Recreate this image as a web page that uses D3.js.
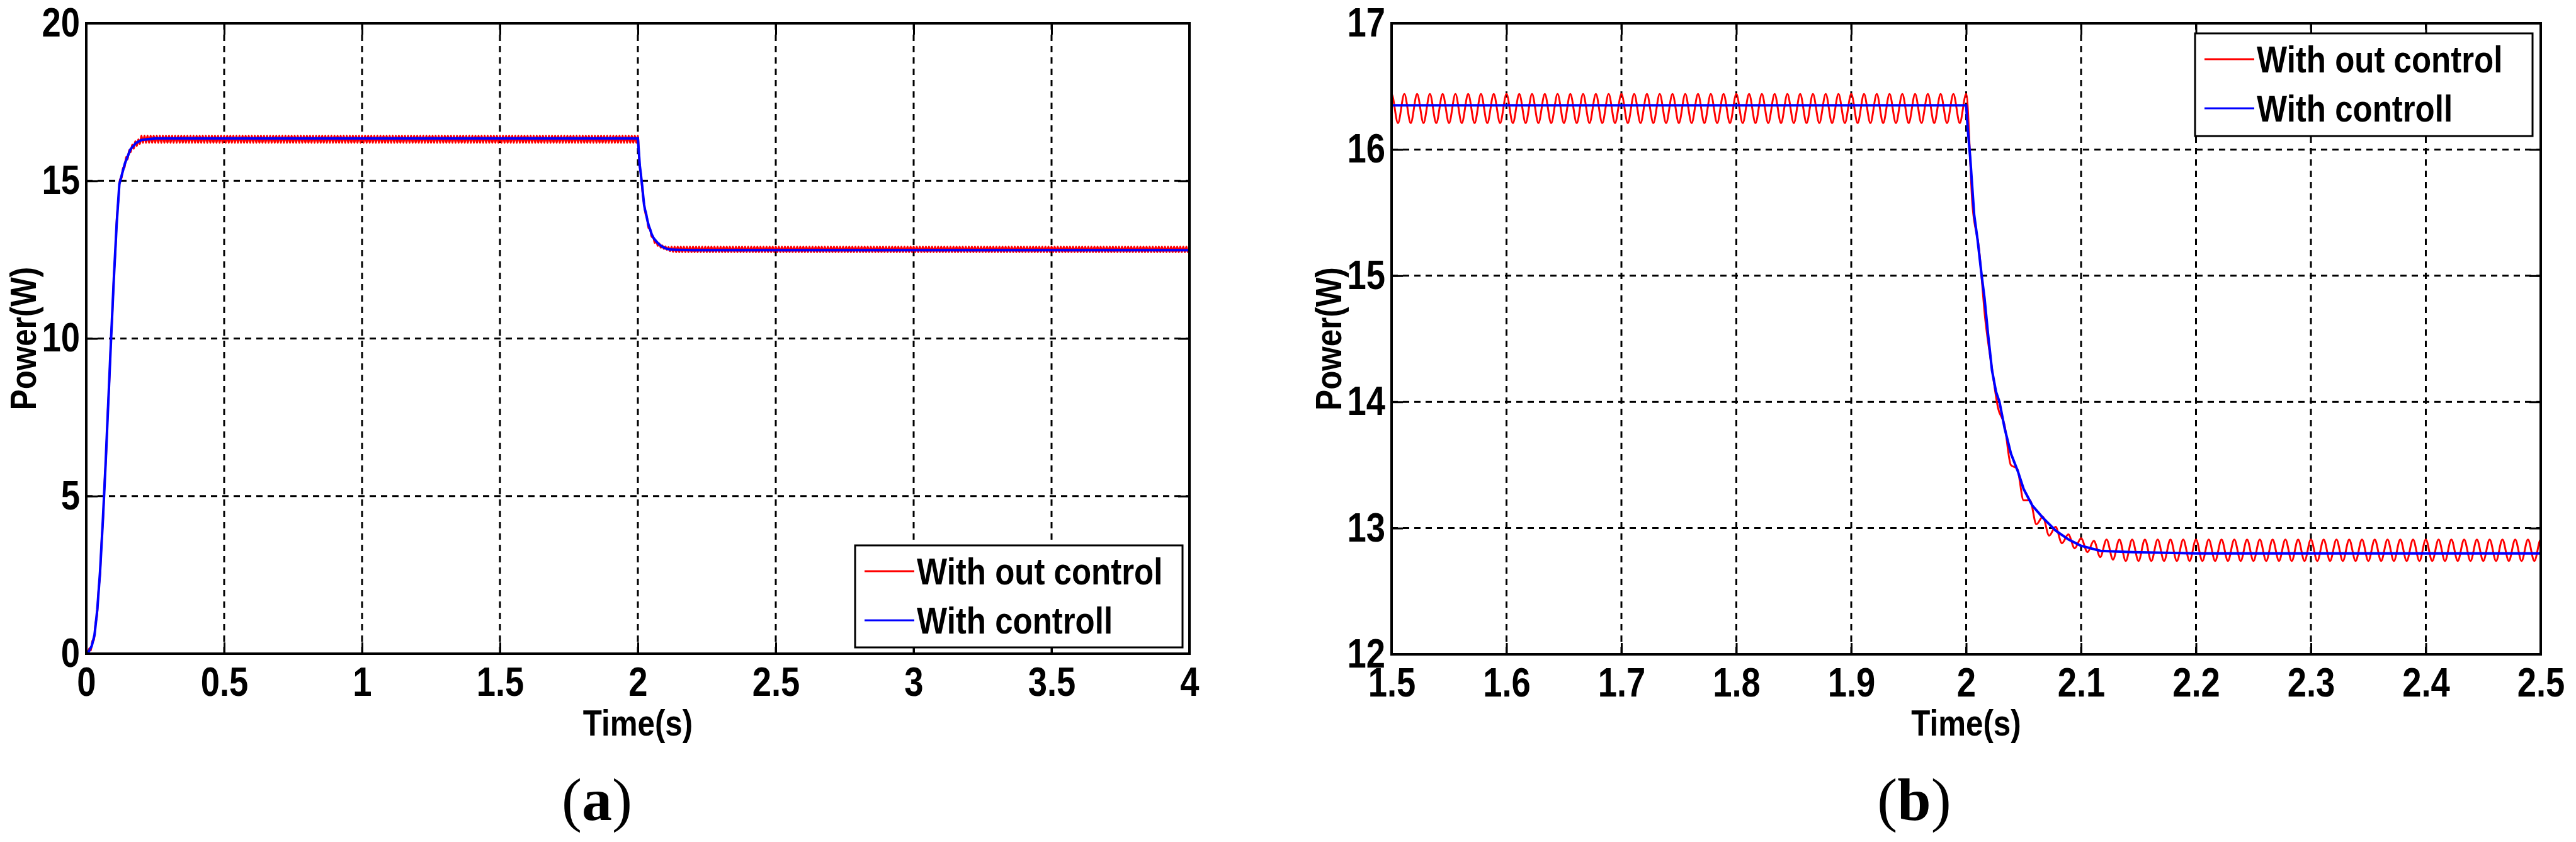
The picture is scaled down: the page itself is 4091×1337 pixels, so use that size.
<!DOCTYPE html>
<html><head><meta charset="utf-8">
<script src="https://cdn.jsdelivr.net/npm/d3@7"></script>
<style>html,body{margin:0;padding:0;background:#fff;}svg{display:block;}</style>
</head><body>
<svg id="chart" width="4091" height="1337"></svg>
<script>
// ---------------- DATA ----------------
const seriesNames = ["With out control", "With controll"];
const panelLabels = ["a", "b"];
const xAxisTitle = "Time(s)";
const yAxisTitle = "Power(W)";

// tick labels
const leftXTicks  = [0, 0.5, 1, 1.5, 2, 2.5, 3, 3.5, 4];
const leftYTicks  = [0, 5, 10, 15, 20];
const rightXTicks = [1.5, 1.6, 1.7, 1.8, 1.9, 2, 2.1, 2.2, 2.3, 2.4, 2.5];
const rightYTicks = [12, 13, 14, 15, 16, 17];

// "With controll" (blue) curve: time (s) and power (W)
const blueTime = [0, 0.01, 0.02, 0.03, 0.04, 0.05, 0.06, 0.07, 0.08, 0.09, 0.10, 0.11, 0.12, 0.14, 0.16, 0.18, 0.20, 0.25,
  2.0, 2.0015, 2.0035, 2.005, 2.007, 2.01, 2.0135, 2.016, 2.019, 2.0225, 2.026, 2.029, 2.0335, 2.039, 2.045, 2.05,
  2.0575, 2.067, 2.078, 2.089, 2.1, 2.117, 2.145, 2.2, 2.5, 4.0];
const bluePower = [0, 0.08, 0.25, 0.6, 1.4, 2.6, 4.2, 6.0, 8.0, 10.0, 11.9, 13.6, 14.9, 15.55, 16.0, 16.2, 16.3, 16.35,
  16.35, 16.15, 15.94, 15.74, 15.48, 15.28, 15.0, 14.82, 14.54, 14.25, 14.08, 14.0, 13.79, 13.59, 13.45, 13.31,
  13.18, 13.08, 12.98, 12.91, 12.86, 12.82, 12.81, 12.8, 12.8, 12.8];

// "With out control" (red) curve: ripple of about 90 Hz, sampled at its peaks and troughs
const redRippleHz = 90;
const redRise = [0, 0.02, 0.17, 0.1, 0.41, 0.42, 0.95, 1.2, 2.01, 2.5, 3.57, 4.3, 5.48, 6.34, 7.64, 8.57, 9.86, 10.74,
  11.98, 12.74, 13.87, 14.4, 15.05, 15.09, 15.41, 15.43, 15.76, 15.68, 15.98, 15.91, 16.15, 16.02, 16.26, 16.11, 16.32, 16.17];
const redHigh = [
  16.44,16.21,16.44,16.21,16.44,16.21,16.44,16.21,16.44,16.21,16.44,16.21,16.44,16.21,16.44,16.21,16.44,16.21,16.44,16.21,
  16.44,16.21,16.44,16.21,16.44,16.21,16.44,16.21,16.44,16.21,16.44,16.21,16.44,16.21,16.44,16.21,16.44,16.21,16.44,16.21,
  16.44,16.21,16.44,16.21,16.44,16.21,16.44,16.21,16.44,16.21,16.44,16.21,16.44,16.21,16.44,16.21,16.44,16.21,16.44,16.21,
  16.44,16.21,16.44,16.21,16.44,16.21,16.44,16.21,16.44,16.21,16.44,16.21,16.44,16.21,16.44,16.21,16.44,16.21,16.44,16.21,
  16.44,16.21,16.44,16.21,16.44,16.21,16.44,16.21,16.44,16.21,16.44,16.21,16.44,16.21,16.44,16.21,16.44,16.21,16.44,16.21,
  16.44,16.21,16.44,16.21,16.44,16.21,16.44,16.21,16.44,16.21,16.44,16.21,16.44,16.21,16.44,16.21,16.44,16.21,16.44,16.21,
  16.44,16.21,16.44,16.21,16.44,16.21,16.44,16.21,16.44,16.21,16.44,16.21,16.44,16.21,16.44,16.21,16.44,16.21,16.44,16.21,
  16.44,16.21,16.44,16.21,16.44,16.21,16.44,16.21,16.44,16.21,16.44,16.21,16.44,16.21,16.44,16.21,16.44,16.21,16.44,16.21,
  16.44,16.21,16.44,16.21,16.44,16.21,16.44,16.21,16.44,16.21,16.44,16.21,16.44,16.21,16.44,16.21,16.44,16.21,16.44,16.21,
  16.44,16.21,16.44,16.21,16.44,16.21,16.44,16.21,16.44,16.21,16.44,16.21,16.44,16.21,16.44,16.21,16.44,16.21,16.44,16.21,
  16.44,16.21,16.44,16.21,16.44,16.21,16.44,16.21,16.44,16.21,16.44,16.21,16.44,16.21,16.44,16.21,16.44,16.21,16.44,16.21,
  16.44,16.21,16.44,16.21,16.44,16.21,16.44,16.21,16.44,16.21,16.44,16.21,16.44,16.21,16.44,16.21,16.44,16.21,16.44,16.21,
  16.44,16.21,16.44,16.21,16.44,16.21,16.44,16.21,16.44,16.21,16.44,16.21,16.44,16.21,16.44,16.21,16.44,16.21,16.44,16.21,
  16.44,16.21,16.44,16.21,16.44,16.21,16.44,16.21,16.44,16.21,16.44,16.21,16.44,16.21,16.44,16.21,16.44,16.21,16.44,16.21,
  16.44,16.21,16.44,16.21,16.44,16.21,16.44,16.21,16.44,16.21,16.44,16.21,16.44,16.21,16.44,16.21,16.44,16.21,16.44,16.21,
  16.44,16.21,16.44,16.21,16.44,16.21,16.44,16.21,16.44,16.21,16.44,16.21,16.44,16.21,16.44,16.21,16.44,16.21,16.44,16.21,
  16.44,16.21,16.44,16.21];
const redDrop = [16.44, 15.55, 15.22, 14.65, 14.28, 13.95, 13.82, 13.5, 13.47, 13.22, 13.22, 13.03, 13.09, 12.94, 13.01, 12.88,
  12.95, 12.84, 12.92, 12.81, 12.9, 12.77, 12.91, 12.75];
const redLow = [
  12.91,12.74,12.91,12.74,12.91,12.74,12.91,12.74,12.91,12.74,12.91,12.74,12.91,12.74,12.91,12.74,12.91,12.74,12.91,12.74,
  12.91,12.74,12.91,12.74,12.91,12.74,12.91,12.74,12.91,12.74,12.91,12.74,12.91,12.74,12.91,12.74,12.91,12.74,12.91,12.74,
  12.91,12.74,12.91,12.74,12.91,12.74,12.91,12.74,12.91,12.74,12.91,12.74,12.91,12.74,12.91,12.74,12.91,12.74,12.91,12.74,
  12.91,12.74,12.91,12.74,12.91,12.74,12.91,12.74,12.91,12.74,12.91,12.74,12.91,12.74,12.91,12.74,12.91,12.74,12.91,12.74,
  12.91,12.74,12.91,12.74,12.91,12.74,12.91,12.74,12.91,12.74,12.91,12.74,12.91,12.74,12.91,12.74,12.91,12.74,12.91,12.74,
  12.91,12.74,12.91,12.74,12.91,12.74,12.91,12.74,12.91,12.74,12.91,12.74,12.91,12.74,12.91,12.74,12.91,12.74,12.91,12.74,
  12.91,12.74,12.91,12.74,12.91,12.74,12.91,12.74,12.91,12.74,12.91,12.74,12.91,12.74,12.91,12.74,12.91,12.74,12.91,12.74,
  12.91,12.74,12.91,12.74,12.91,12.74,12.91,12.74,12.91,12.74,12.91,12.74,12.91,12.74,12.91,12.74,12.91,12.74,12.91,12.74,
  12.91,12.74,12.91,12.74,12.91,12.74,12.91,12.74,12.91,12.74,12.91,12.74,12.91,12.74,12.91,12.74,12.91,12.74,12.91,12.74,
  12.91,12.74,12.91,12.74,12.91,12.74,12.91,12.74,12.91,12.74,12.91,12.74,12.91,12.74,12.91,12.74,12.91,12.74,12.91,12.74,
  12.91,12.74,12.91,12.74,12.91,12.74,12.91,12.74,12.91,12.74,12.91,12.74,12.91,12.74,12.91,12.74,12.91,12.74,12.91,12.74,
  12.91,12.74,12.91,12.74,12.91,12.74,12.91,12.74,12.91,12.74,12.91,12.74,12.91,12.74,12.91,12.74,12.91,12.74,12.91,12.74,
  12.91,12.74,12.91,12.74,12.91,12.74,12.91,12.74,12.91,12.74,12.91,12.74,12.91,12.74,12.91,12.74,12.91,12.74,12.91,12.74,
  12.91,12.74,12.91,12.74,12.91,12.74,12.91,12.74,12.91,12.74,12.91,12.74,12.91,12.74,12.91,12.74,12.91,12.74,12.91,12.74,
  12.91,12.74,12.91,12.74,12.91,12.74,12.91,12.74,12.91,12.74,12.91,12.74,12.91,12.74,12.91,12.74,12.91,12.74,12.91,12.74,
  12.91,12.74,12.91,12.74,12.91,12.74,12.91,12.74,12.91,12.74,12.91,12.74,12.91,12.74,12.91,12.74,12.91,12.74,12.91,12.74,
  12.91,12.74,12.91,12.74,12.91,12.74,12.91,12.74,12.91,12.74,12.91,12.74,12.91,12.74,12.91,12.74,
  12.91];

// ---------------- BUILD ----------------
const redPower = redRise.concat(redHigh, redDrop, redLow);
const redData = redPower.map((v, i) => ({t: i / (2 * redRippleHz), v}));
const blueData = blueTime.map((t, i) => ({t, v: bluePower[i]}));

const COLORS = ["#ff0000", "#0000ff"];
const FONT = "'Liberation Sans',Arial,Helvetica,sans-serif";
const SERIF = "'Liberation Serif','Times New Roman',serif";
const SX = 0.85; // horizontal condensing of the MATLAB bold font

const svg = d3.select("#chart");

const panels = [
  {id: "a", box: {x0: 137, x1: 1889, y0: 37, y1: 1038}, xDom: [0, 4], yDom: [0, 20], xt: leftXTicks, yt: leftYTicks,
   legend: {x: 1358, y: 866, w: 520, h: 162}, label: panelLabels[0], labelX: 948},
  {id: "b", box: {x0: 2210, x1: 4035, y0: 37, y1: 1039}, xDom: [1.5, 2.5], yDom: [12, 17], xt: rightXTicks, yt: rightYTicks,
   legend: {x: 3486, y: 53, w: 536, h: 163}, label: panelLabels[1], labelX: 3040}
];

function condText(parent, x, y, size, str, anchor) {
  return parent.append("text").attr("transform", `translate(${x},${y}) scale(${SX},1)`)
    .attr("text-anchor", anchor || "start").attr("font-family", FONT).attr("font-weight", "bold")
    .attr("font-size", size).attr("fill", "#000").text(str);
}

panels.forEach(p => {
  const b = p.box;
  const x = d3.scaleLinear().domain(p.xDom).range([b.x0, b.x1]);
  const y = d3.scaleLinear().domain(p.yDom).range([b.y1, b.y0]);
  const g = svg.append("g");

  const clipId = "clip-" + p.id;
  svg.append("clipPath").attr("id", clipId).append("rect")
    .attr("x", b.x0).attr("y", b.y0).attr("width", b.x1 - b.x0).attr("height", b.y1 - b.y0);

  // grid
  const grid = g.append("g").attr("stroke", "#000").attr("stroke-width", 3).attr("stroke-dasharray", "10,8");
  grid.selectAll("line.vx").data(p.xt.slice(1, -1)).join("line")
    .attr("x1", d => x(d)).attr("x2", d => x(d)).attr("y1", b.y0).attr("y2", b.y1);
  grid.selectAll("line.hy").data(p.yt.slice(1, -1)).join("line")
    .attr("y1", d => y(d)).attr("y2", d => y(d)).attr("x1", b.x0).attr("x2", b.x1);

  // series
  const redLine = d3.line().x(d => x(d.t)).y(d => y(d.v)).curve(d3.curveMonotoneX);
  const blueLine = d3.line().x(d => x(d.t)).y(d => y(d.v));
  const dg = g.append("g").attr("clip-path", `url(#${clipId})`);
  const visRed = redData.filter(d => d.t >= p.xDom[0] - 0.02 && d.t <= p.xDom[1] + 0.02);
  dg.append("path").datum(visRed).attr("d", redLine).attr("fill", "none")
    .attr("stroke", COLORS[0]).attr("stroke-width", 3);
  dg.append("path").datum(blueData).attr("d", blueLine).attr("fill", "none")
    .attr("stroke", COLORS[1]).attr("stroke-width", 4);

  // axes (ticks inside, on all sides)
  const tl = 18;
  const fmt = d => String(d);
  const axB = g.append("g").attr("transform", `translate(0,${b.y1})`)
    .call(d3.axisBottom(x).tickValues(p.xt).tickSize(-tl).tickPadding(22).tickFormat(fmt));
  const axT = g.append("g").attr("transform", `translate(0,${b.y0})`)
    .call(d3.axisTop(x).tickValues(p.xt).tickSize(-tl).tickFormat(""));
  const axL = g.append("g").attr("transform", `translate(${b.x0},0)`)
    .call(d3.axisLeft(y).tickValues(p.yt).tickSize(-tl).tickPadding(10).tickFormat(fmt));
  const axR = g.append("g").attr("transform", `translate(${b.x1},0)`)
    .call(d3.axisRight(y).tickValues(p.yt).tickSize(-tl).tickFormat(""));
  [axB, axT, axL, axR].forEach(a => {
    a.select(".domain").remove();
    a.selectAll(".tick line").attr("stroke", "#000").attr("stroke-width", 3);
    a.selectAll("text").attr("fill", "#000").attr("font-family", FONT)
      .attr("font-weight", "bold").attr("font-size", 64).attr("transform", `scale(${SX},1)`);
  });
  axB.selectAll("text").attr("dy", "0.71em");
  axL.selectAll("text").attr("x", -10 / SX);

  // box
  g.append("rect").attr("x", b.x0).attr("y", b.y0).attr("width", b.x1 - b.x0).attr("height", b.y1 - b.y0)
    .attr("fill", "none").attr("stroke", "#000").attr("stroke-width", 4);

  // axis titles
  condText(g, (b.x0 + b.x1) / 2, 1168, 58, xAxisTitle, "middle");
  g.append("text").attr("transform", `translate(${b.x0 - 80},${(b.y0 + b.y1) / 2}) rotate(-90) scale(${SX},1)`)
    .attr("text-anchor", "middle").attr("font-family", FONT).attr("font-weight", "bold")
    .attr("font-size", 58).text(yAxisTitle);

  // legend
  const L = p.legend;
  const lg = g.append("g");
  lg.append("rect").attr("x", L.x).attr("y", L.y).attr("width", L.w).attr("height", L.h)
    .attr("fill", "#fff").attr("stroke", "#000").attr("stroke-width", 3);
  seriesNames.forEach((name, i) => {
    const cy = L.y + 41 + i * 78;
    lg.append("line").attr("x1", L.x + 15).attr("x2", L.x + 94).attr("y1", cy).attr("y2", cy)
      .attr("stroke", COLORS[i]).attr("stroke-width", 3);
    condText(lg, L.x + 98, cy + 21, 60, name);
  });

  // panel label (a)/(b)
  const pl = g.append("text").attr("x", p.labelX).attr("y", 1302).attr("text-anchor", "middle")
    .attr("font-family", SERIF).attr("font-size", 96);
  pl.append("tspan").text("(");
  pl.append("tspan").attr("font-weight", "bold").text(p.label);
  pl.append("tspan").text(")");
});
</script>
</body></html>
